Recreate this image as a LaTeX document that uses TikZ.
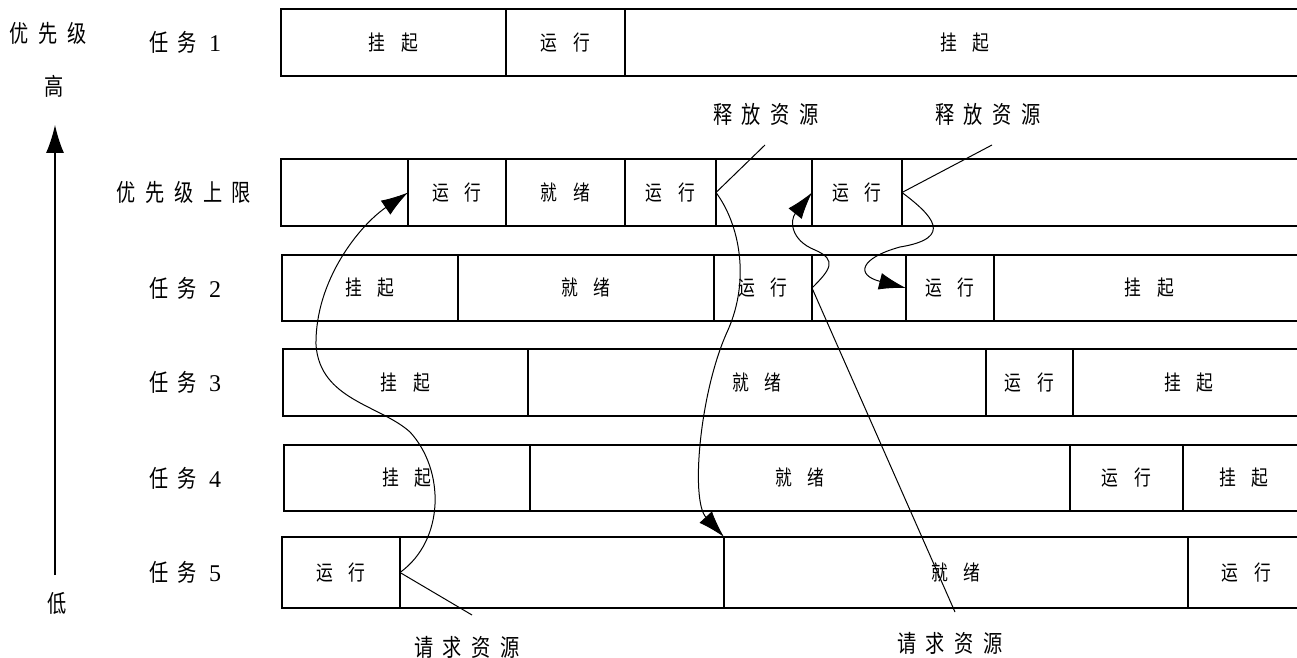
\documentclass[tikz,border=0pt]{standalone}
\usepackage{fontspec}
\setmainfont{Liberation Serif}
\newfontfamily\cjk[FakeStretch=0.8]{Noto Sans CJK SC}
\usetikzlibrary{arrows.meta}
\newcommand{\lz}{\hspace{0.4em}}
\newcommand{\zw}[2]{#1\hspace{0.75em}#2}
\newcommand{\aufgabe}[1]{任\lz 务\hspace{0.5em}{\rmfamily #1}}

\begin{document}
\begin{tikzpicture}[x=0.5pt, y=-0.5pt, >={Latex[length=13.5pt,width=8.5pt]}, font=\cjk\fontsize{10.5}{12}\selectfont,
	zelle/.style={draw, line width=0.6pt, inner sep=0pt, outer sep=0pt},
	titel/.style={font=\cjk\fontsize{12}{14}\selectfont},
	kurve/.style={->, line width=0.5pt},
	zeiger/.style={line width=0.5pt}]
	\useasboundingbox (0,0) rectangle (1297,658);
	% Prioritaetsachse
	\node[titel] (prio) at (48,33) {优\lz 先\lz 级};
	\node[titel] (hoch) at (54,86) {高};
	\node[titel] (tief) at (57,603) {低};
	\coordinate (aunten) at (55,575);
	\coordinate (aoben) at (55,125);
	\draw[-{Latex[length=14pt,width=9pt]}, line width=0.6pt] (aunten) -- (aoben);
	% Zeilenbeschriftung
	\node[titel] (l1) at (185,42.5) {\aufgabe{1}};
	\node[titel] (lo) at (184,192.5) {优\lz 先\lz 级\lz 上\lz 限};
	\node[titel] (l2) at (185,288) {\aufgabe{2}};
	\node[titel] (l3) at (185,382.5) {\aufgabe{3}};
	\node[titel] (l4) at (185,478) {\aufgabe{4}};
	\node[titel] (l5) at (185,572.5) {\aufgabe{5}};
	% Zeilen zeichnen
	\foreach \n/\a/\b/\t in {r1a/281/506/\zw{挂}{起}, r1b/506/625/\zw{运}{行}, r1c/625/1305/\zw{挂}{起}}
		\node[zelle, minimum width={(\b-\a)*0.5pt}, minimum height=33.5pt] (\n) at ({(\a+\b)/2},42.5) {\t};
	\foreach \n/\a/\b/\t in {roa/281/408/{}, rob/408/506/\zw{运}{行}, roc/506/625/\zw{就}{绪}, rod/625/716/\zw{运}{行}, roe/716/812/{}, rof/812/902/\zw{运}{行}, rog/902/1305/{}}
		\node[zelle, minimum width={(\b-\a)*0.5pt}, minimum height=33.5pt] (\n) at ({(\a+\b)/2},192.5) {\t};
	\foreach \n/\a/\b/\t in {r2a/282/458/\zw{挂}{起}, r2b/458/714/\zw{就}{绪}, r2c/714/812/\zw{运}{行}, r2d/812/906/{}, r2e/906/994/\zw{运}{行}, r2f/994/1305/\zw{挂}{起}}
		\node[zelle, minimum width={(\b-\a)*0.5pt}, minimum height=33pt] (\n) at ({(\a+\b)/2},288) {\t};
	\foreach \n/\a/\b/\t in {r3a/283/528/\zw{挂}{起}, r3b/528/986/\zw{就}{绪}, r3c/986/1073/\zw{运}{行}, r3d/1073/1305/\zw{挂}{起}}
		\node[zelle, minimum width={(\b-\a)*0.5pt}, minimum height=33.5pt] (\n) at ({(\a+\b)/2},382.5) {\t};
	\foreach \n/\a/\b/\t in {r4a/284/530/\zw{挂}{起}, r4b/530/1070/\zw{就}{绪}, r4c/1070/1183/\zw{运}{行}, r4d/1183/1305/\zw{挂}{起}}
		\node[zelle, minimum width={(\b-\a)*0.5pt}, minimum height=33pt] (\n) at ({(\a+\b)/2},478) {\t};
	\foreach \n/\a/\b/\t in {r5a/282/400/\zw{运}{行}, r5b/400/724/{}, r5c/724/1188/\zw{就}{绪}, r5d/1188/1305/\zw{运}{行}}
		\node[zelle, minimum width={(\b-\a)*0.5pt}, minimum height=35.5pt] (\n) at ({(\a+\b)/2},572.5) {\t};
	% Ressourcen
	\node[titel] (frei1) at (766,114) {释\lz 放\lz 资\lz 源};
	\node[titel] (frei2) at (988,114) {释\lz 放\lz 资\lz 源};
	\node[titel] (anf1) at (467,647) {请\lz 求\lz 资\lz 源};
	\node[titel] (anf2) at (950,643) {请\lz 求\lz 资\lz 源};
	\coordinate (f1) at (765,145);
	\coordinate (f2) at (992,145);
	\coordinate (q1) at (472,615);
	\coordinate (q2) at (955,612);
	\draw[zeiger] (rod.east) -- (f1);
	\draw[zeiger] (rof.east) -- (f2);
	\draw[zeiger] (r5a.east) -- (q1);
	\draw[zeiger] (r2c.east) -- (q2);
	% Kurven
	\draw[kurve] (r5a.east) .. controls (445,540) and (445,470) .. (410,432) .. controls (380,405) and (320,400) .. (316,345) .. controls (315,280) and (360,225) .. (rob.west);
	\draw[kurve] (rod.east) .. controls (740,225) and (750,280) .. (728,330) .. controls (700,390) and (690,500) .. (r5c.north west);
	\draw[kurve] (r2c.east) .. controls (830,270) and (838,260) .. (815,250) .. controls (790,240) and (790,220) .. (rof.west);
	\draw[kurve] (rof.east) .. controls (932,215) and (955,238) .. (900,247) .. controls (860,258) and (855,275) .. (r2e.west);
\end{tikzpicture}
\end{document}
